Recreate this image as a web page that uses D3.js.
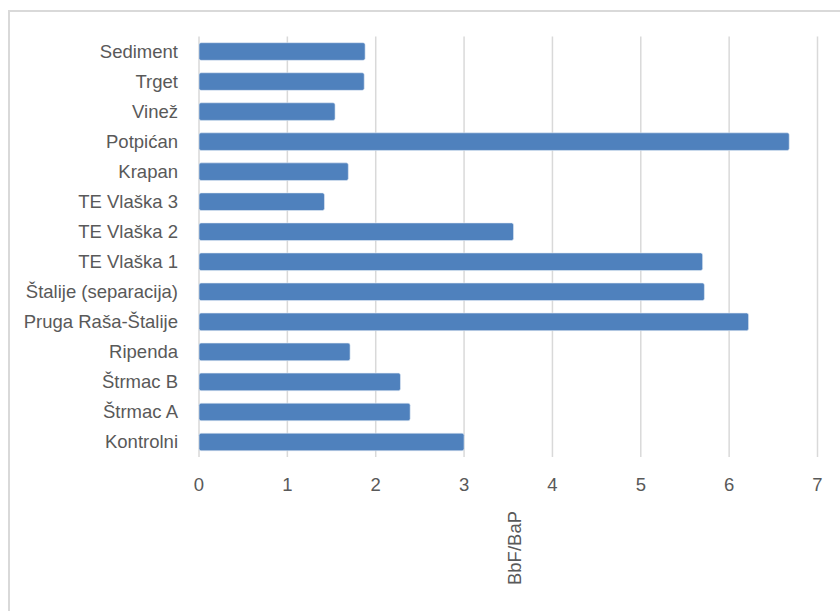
<!DOCTYPE html>
<html>
<head>
<meta charset="utf-8">
<script src="https://cdn.jsdelivr.net/npm/d3@7"></script>
<style>
  body { margin: 0; background: #fff; }
  text { font-family: "Liberation Sans", Arial, sans-serif; fill: #595959; }
</style>
</head>
<body>
<svg id="chart" width="840" height="611"></svg>
<script>
// categories top to bottom as in the picture
const sites = ['Sediment', 'Trget', 'Vinež', 'Potpićan', 'Krapan', 'TE Vlaška 3', 'TE Vlaška 2',
  'TE Vlaška 1', 'Štalije (separacija)', 'Pruga Raša-Štalije', 'Ripenda', 'Štrmac B', 'Štrmac A', 'Kontrolni']
const ratios = [1.88, 1.87, 1.54, 6.68, 1.69, 1.42, 3.56, 5.70, 5.72, 6.22, 1.71, 2.28, 2.39, 3.00]
const xTicks = [0, 1, 2, 3, 4, 5, 6, 7]
const axisTitle = 'BbF/BaP'

const svg = d3.select('#chart')
const margin = { left: 199, right: 22.5, top: 36.5, bottom: 154 }
const width = 840 - margin.left - margin.right,
  height = 611 - margin.top - margin.bottom
const fontSize = '18.5px'

// outer frame (only top and left edges are visible in the crop)
svg.append('path')
  .attr('d', 'M9,611 L9,11 L840,11')
  .style('fill', 'none')
  .style('stroke', '#d9d9d9')
  .style('stroke-width', 2)

const x = d3.scaleLinear().domain([0, 7]).range([0, width])
const y = d3.scaleBand().domain(sites).range([0, height]).paddingInner(0.414).paddingOuter(0.207)

const g = svg.append('g')
  .attr('transform', `translate(${ margin.left }, ${ margin.top })`)

// vertical gridlines
g.selectAll('line.grid').data(xTicks)
  .enter().append('line')
    .attr('class', 'grid')
    .attr('x1', d => x(d)).attr('x2', d => x(d))
    .attr('y1', 0).attr('y2', height)
    .style('stroke', '#d9d9d9')
    .style('stroke-width', 1.5)

g.selectAll('rect.bar').data(sites)
  .enter().append('rect')
    .attr('class', 'bar')
    .attr('x', x(0))
    .attr('y', d => y(d))
    .attr('width', (d, i) => x(ratios[i]) - x(0))
    .attr('height', y.bandwidth())
    .attr('rx', 2)
    .style('fill', '#4f81bd')
    .style('stroke', '#e3ebf5')
    .style('stroke-width', 0.6)

// category labels
g.selectAll('text.cat').data(sites)
  .enter().append('text')
    .attr('class', 'cat')
    .attr('x', -21)
    .attr('y', d => y(d) + y.bandwidth() / 2)
    .attr('dy', '0.35em')
    .attr('text-anchor', 'end')
    .style('font-size', fontSize)
    .text(d => d)

// x tick labels
g.selectAll('text.tick').data(xTicks)
  .enter().append('text')
    .attr('class', 'tick')
    .attr('x', d => x(d))
    .attr('y', height + 28)
    .attr('dy', '0.35em')
    .attr('text-anchor', 'middle')
    .style('font-size', fontSize)
    .text(d => d)

// axis title, rotated
g.append('text')
  .attr('transform', `translate(${ width / 2 + 6 }, ${ height + 91 }) rotate(-90)`)
  .attr('dy', '0.35em')
  .attr('text-anchor', 'middle')
  .style('font-size', fontSize)
  .text(axisTitle)
</script>
</body>
</html>
